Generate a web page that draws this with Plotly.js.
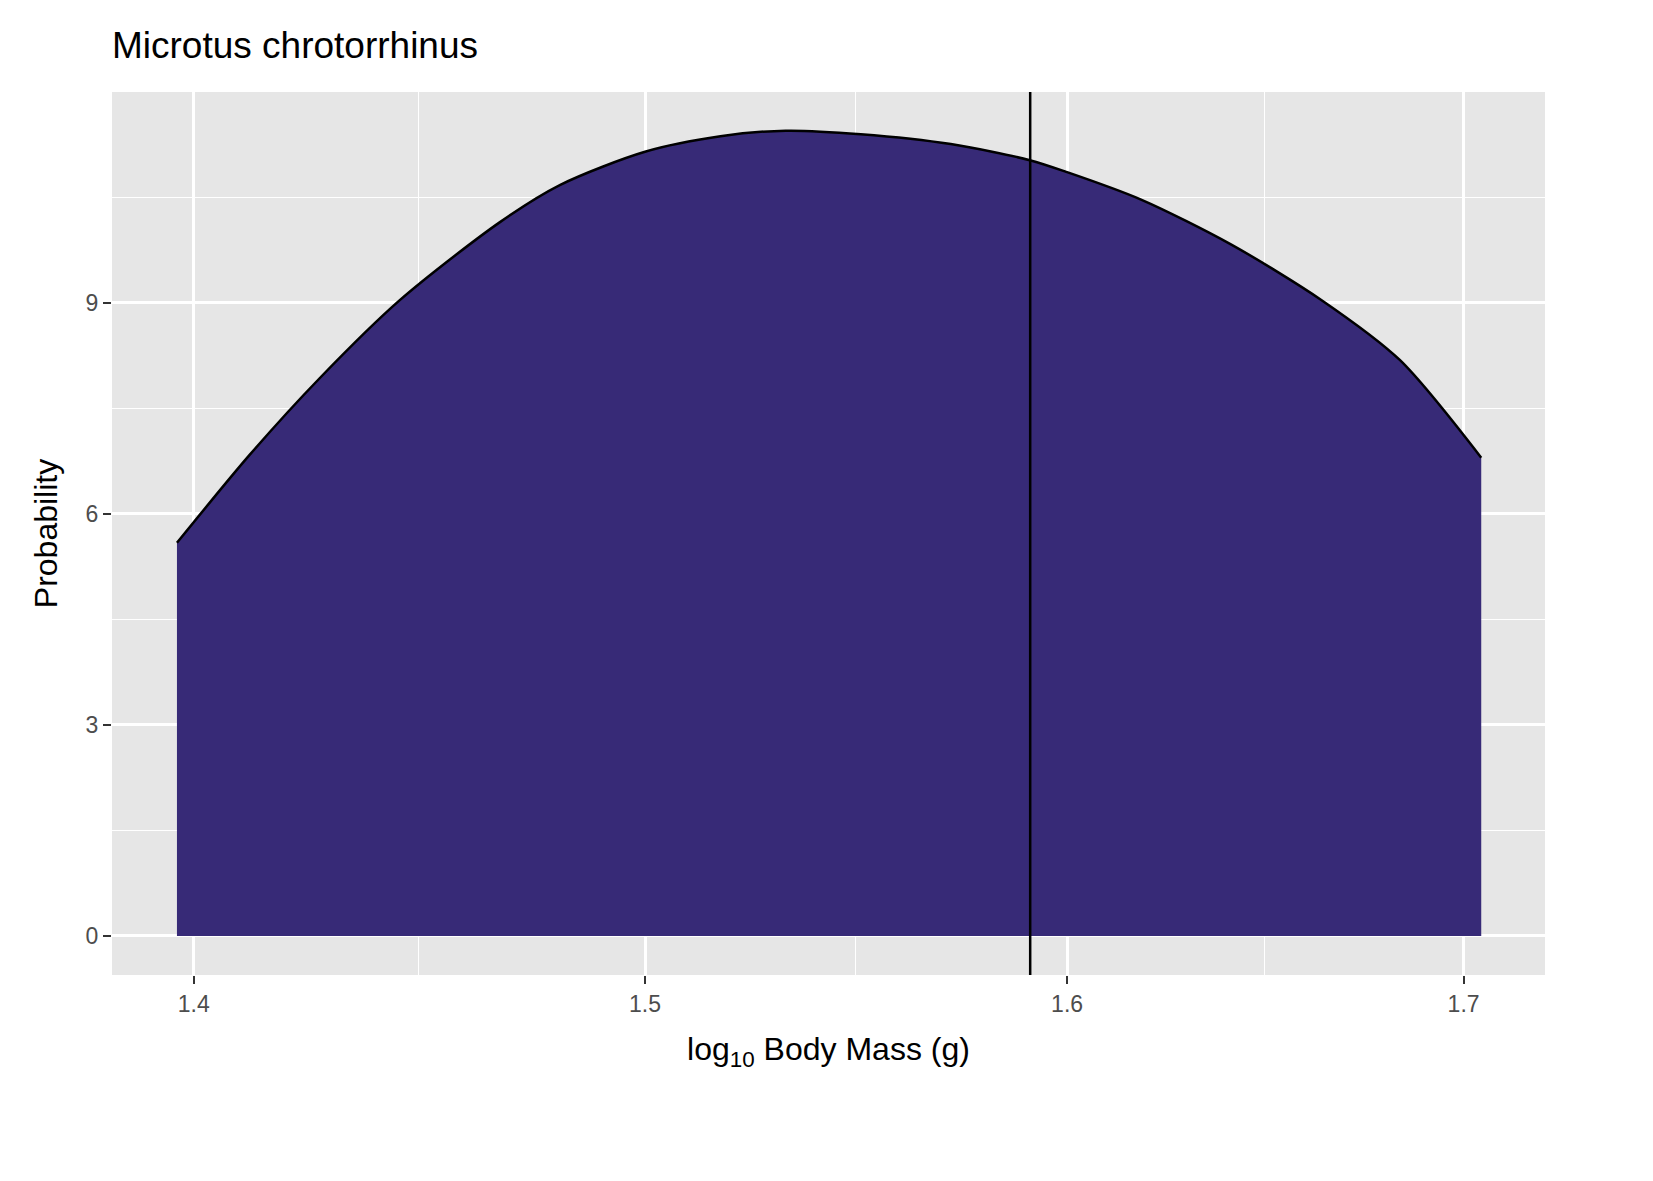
<!DOCTYPE html>
<html>
<head>
<meta charset="utf-8">
<script src="https://cdn.plot.ly/plotly-3.0.1.min.js"></script>
<style>body{margin:0;background:#fff}</style>
</head>
<body>
<div id="chart" style="width:1653px;height:1181px"></div>
<script>
// density curve
const massX = [1.3964, 1.4120, 1.4272, 1.4448, 1.4671, 1.4807, 1.5, 1.5174, 1.5326, 1.5503,
               1.5718, 1.5909, 1.6, 1.6182, 1.6407, 1.6635, 1.6835, 1.7046];
const prob = [5.59, 6.84, 7.93, 9.04, 10.15, 10.68, 11.15, 11.37, 11.45, 11.40,
              11.26, 11.03, 10.86, 10.47, 9.83, 9.04, 8.19, 6.80];
const observedMass = 1.591;
const xTicks = [1.4, 1.5, 1.6, 1.7];
const xMinor = [1.449, 1.549, 1.649];
const yTicks = [0, 3, 6, 9];
const yMinor = [1.5, 4.5, 7.5, 10.5];

const area = {
    x: massX, y: prob, type: 'scatter', mode: 'lines',
    fill: 'tozeroy', fillcolor: '#372a77',
    line: {width: 0, shape: 'spline', smoothing: 0.8, color: '#372a77'},
    hoverinfo: 'skip'
};
const curve = {
    x: massX, y: prob, type: 'scatter', mode: 'lines',
    line: {color: 'black', width: 2.5, shape: 'spline', smoothing: 0.8}
};

const tickFont = {family: 'Liberation Sans, Arial', size: 23, color: '#4d4d4d'};
const layout = {
    width: 1653, height: 1181,
    margin: {l: 112, r: 108, t: 92, b: 206},
    paper_bgcolor: 'white', plot_bgcolor: '#e6e6e6',
    showlegend: false,
    title: {text: 'Microtus chrotorrhinus', x: 0, xref: 'paper', xanchor: 'left',
            y: 1 - 45 / 1181, yanchor: 'middle',
            font: {family: 'Liberation Sans, Arial', size: 37, color: 'black'}},
    xaxis: {
        type: 'log', range: [Math.log10(1.3826), Math.log10(1.7213)],
        tickmode: 'array', tickvals: xTicks, ticktext: xTicks.map(v => v.toFixed(1)),
        ticks: 'outside', ticklen: 8, tickwidth: 2, tickcolor: '#333',
        showgrid: true, gridcolor: 'white', gridwidth: 2.5, zeroline: false,
        minor: {tickmode: 'array', tickvals: xMinor, showgrid: true, gridcolor: 'white', gridwidth: 1.2, ticks: ''},
        tickfont: tickFont,
        title: {text: 'log<sub>10</sub> Body Mass (g)', standoff: 22,
                font: {family: 'Liberation Sans, Arial', size: 32, color: 'black'}}
    },
    yaxis: {
        range: [-0.555, 12.0],
        tickmode: 'array', tickvals: yTicks,
        ticks: 'outside', ticklen: 8, tickwidth: 2, tickcolor: '#333',
        showgrid: true, gridcolor: 'white', gridwidth: 2.5, zeroline: false,
        minor: {tickmode: 'array', tickvals: yMinor, showgrid: true, gridcolor: 'white', gridwidth: 1.2, ticks: ''},
        tickfont: tickFont,
        title: {text: 'Probability', standoff: 18,
                font: {family: 'Liberation Sans, Arial', size: 32, color: 'black'}}
    },
    shapes: [{
        type: 'line', xref: 'x', yref: 'paper', x0: observedMass, x1: observedMass, y0: 0, y1: 1,
        line: {color: 'black', width: 2.5}
    }]
};

Plotly.newPlot('chart', [area, curve], layout, {displayModeBar: false});
</script>
</body>
</html>
